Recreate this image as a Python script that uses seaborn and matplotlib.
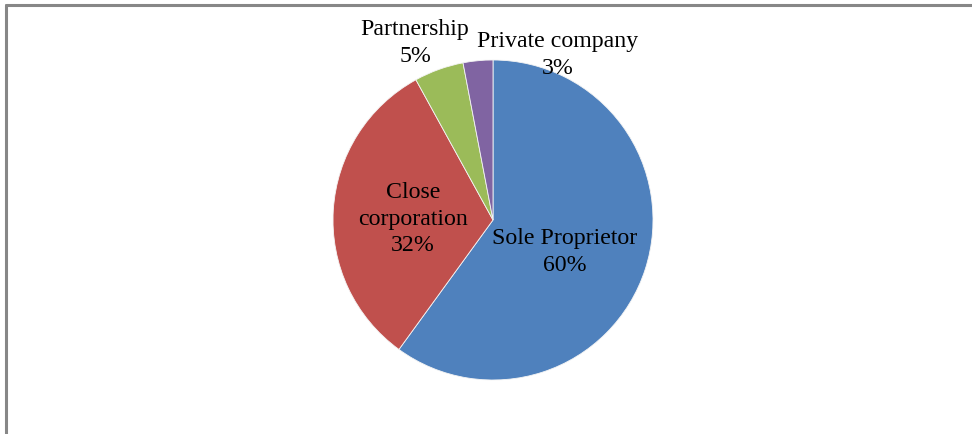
import numpy as np
import matplotlib
matplotlib.use("Agg")
import matplotlib.pyplot as plt
import seaborn as sns

sns.set_theme(style="white")
plt.rcParams["font.family"] = ["Liberation Serif", "DejaVu Serif"]

categories = ["Sole Proprietor", "Close corporation", "Partnership", "Private company"]
label_text = ["Sole Proprietor", "Close\ncorporation", "Partnership", "Private company"]
shares = [60, 32, 5, 3]
colors = ["#4F81BD", "#C0504D", "#9BBB59", "#8064A2"]

W, H = 972, 434
fig = plt.figure(figsize=(W / 100, H / 100), dpi=100)
ax = fig.add_axes([0, 0, 1, 1])

cx, cy, R = 493, H - 220, 160
wedges, _ = ax.pie(shares, colors=colors, startangle=90, counterclock=False,
                   center=(cx, cy), radius=R, frame=True,
                   wedgeprops=dict(edgecolor="#f4f4f4", linewidth=0.6))
ax.set_xlim(0, W)
ax.set_ylim(0, H)
ax.set_aspect("equal")
ax.axis("off")

# label anchor points (pixel layout, y measured from top)
label_pos = [(565, 252), (413, 219), (415, 43), (558, 55)]
for txt, val, (lx, ly) in zip(label_text, shares, label_pos):
    ax.text(lx, H - ly, f"{txt}\n{val}%", ha="center", va="center",
            fontsize=17.2, color="black", linespacing=1.36)

# chart-area frame (left and top edges visible)
frame_kw = dict(color="#878787", linewidth=2.2, transform=fig.transFigure, clip_on=False)
fig.add_artist(plt.Line2D([5.5 / W, 5.5 / W], [0, 1 - 4.5 / H], **frame_kw))
fig.add_artist(plt.Line2D([5.5 / W, 1], [1 - 4.5 / H, 1 - 4.5 / H], **frame_kw))

fig.savefig("out.png", dpi=100, facecolor="white")
